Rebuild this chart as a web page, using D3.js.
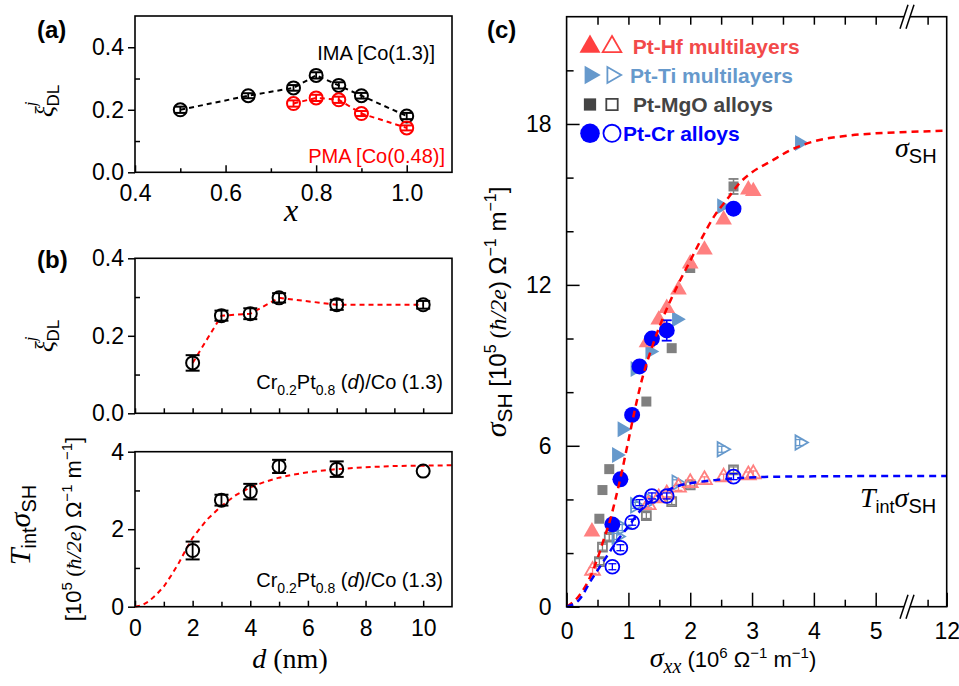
<!DOCTYPE html>
<html><head><meta charset="utf-8">
<script src="https://cdn.jsdelivr.net/npm/d3@7"></script>
<style>body{margin:0;background:#fff}svg{display:block}</style>
</head><body>
<script>
// ---------- DATA ----------
// panel (a)
const aX_ima = [0.5, 0.65, 0.75, 0.8, 0.85, 0.9, 1.0];
const aY_ima = [0.200, 0.245, 0.270, 0.310, 0.278, 0.245, 0.180];
const aE_ima = [0.010, 0.008, 0.009, 0.010, 0.010, 0.009, 0.010];
const aX_pma = [0.75, 0.8, 0.85, 0.9, 1.0];
const aY_pma = [0.220, 0.238, 0.232, 0.188, 0.142];
const aE_pma = [0.010, 0.010, 0.010, 0.008, 0.008];
const aXTicks = [0.4, 0.6, 0.8, 1.0];
const aXMinor = [0.5, 0.7, 0.9];
const aYTicks = [0.0, 0.2, 0.4];
const aYMinor = [0.1, 0.3];
// panel (b)
const bD = [2, 3, 4, 5, 7, 10];
const bXi = [0.130, 0.252, 0.257, 0.298, 0.280, 0.280];
const bXiErr = [0.020, 0.013, 0.014, 0.012, 0.013, 0.010];
const bTs = [1.45, 2.75, 2.97, 3.62, 3.55, 3.50];
const bTsErr = [0.23, 0.14, 0.20, 0.17, 0.20, 0.0];
const bFitD = [0, 0.25, 0.5, 0.75, 1, 1.25, 1.5, 1.75, 2, 2.5, 3, 3.5, 4, 4.5, 5, 5.5, 6, 7, 8, 9, 10, 11];
const bFitT = [0, 0.04, 0.15, 0.32, 0.52, 0.8, 1.1, 1.45, 1.78, 2.25, 2.6, 2.88, 3.08, 3.22, 3.33, 3.41, 3.47, 3.55, 3.6, 3.63, 3.64, 3.65];
const bXTicks = [0, 2, 4, 6, 8, 10];
const bXMinor = [1, 3, 5, 7, 9];
const bYTicksTop = [0.0, 0.2, 0.4];
const bYMinorTop = [0.1, 0.3];
const bYTicksBot = [0, 2, 4];
const bYMinorBot = [1, 3];
// panel (c)  sigma_xx (1e6), sigma_SH (1e5)
const hfX  = [0.41, 1.30, 1.49, 1.62, 1.81, 2.00, 2.23, 2.54, 2.94, 3.02];
const hfY  = [2.80, 9.85, 10.70, 11.13, 11.82, 12.79, 13.31, 14.43, 15.55, 15.49];
const hfoX = [0.42, 1.32, 1.49, 1.62, 1.81, 2.00, 2.23, 2.54, 2.94, 3.02];
const hfoY = [1.35, 3.80, 4.05, 4.20, 4.45, 4.62, 4.73, 4.83, 4.91, 4.95];
const tiX  = [0.81, 0.90, 1.11, 1.35, 1.78, 2.51, 3.77];
const tiY  = [5.66, 6.62, 8.86, 9.52, 10.72, 14.93, 17.29];
const tioY = [2.62, 2.95, 3.78, 3.95, 4.62, 5.87, 6.12];
const mgX  = [0.53, 0.58, 0.69, 1.29, 1.70, 2.00, 2.70];
const mgY  = [3.28, 4.35, 5.13, 7.65, 9.64, 12.63, 15.67];
const mgE  = [0, 0, 0, 0, 0, 0, 0.28];
const mgoY = [1.68, 2.22, 2.59, 3.40, 3.92, 4.54, 5.10];
const crX  = [0.74, 0.87, 1.06, 1.18, 1.38, 1.62, 2.70];
const crY  = [3.07, 4.75, 7.15, 8.96, 10.0, 10.3, 14.84];
const crE  = [0, 0, 0, 0, 0, 0.38, 0];
const croY = [1.49, 2.20, 3.15, 3.88, 4.13, 4.13, 4.85];
const fitSX = [0, 0.2, 0.4, 0.5, 0.6, 0.7, 0.8, 0.9, 1.0, 1.1, 1.2, 1.4, 1.6, 1.8, 2.0, 2.2, 2.4, 2.6, 2.8, 3.0, 3.3, 3.6, 4.0, 4.5, 5.0, 5.5, 12];
const fitSY = [0, 0.4, 1.2, 1.8, 2.5, 3.2, 4.1, 5.1, 6.2, 7.3, 8.3, 9.8, 11.0, 12.0, 12.9, 13.8, 14.6, 15.2, 15.8, 16.2, 16.6, 17.0, 17.35, 17.55, 17.65, 17.7, 17.75];
const fitTX = [0, 0.2, 0.4, 0.6, 0.8, 1.0, 1.2, 1.4, 1.6, 1.8, 2.0, 2.4, 2.8, 3.2, 4.0, 5.0, 5.5, 12];
const fitTY = [0, 0.25, 1.0, 1.7, 2.4, 3.0, 3.6, 4.0, 4.3, 4.5, 4.6, 4.72, 4.8, 4.84, 4.86, 4.87, 4.87, 4.87];
const cXTicks = [0, 1, 2, 3, 4, 5, 12];
const cXMinor = [0.5, 1.5, 2.5, 3.5, 4.5, 11.5];
const cXTop = [0.5, 1, 1.5, 2, 2.5, 3, 3.5, 4, 4.5, 5, 11.5];
const cYTicks = [0, 6, 12, 18];
const cYMinor = [2, 4, 8, 10, 14, 16, 20];

// ---------- SETUP ----------
const SANS = '"Liberation Sans", Arial, sans-serif';
const SERIF = '"Liberation Serif", "Times New Roman", serif';
const svg = d3.select('body').append('svg').attr('width', 959).attr('height', 686);

function axis(gen, transform, size) {
  const g = svg.append('g').attr('transform', transform).call(gen);
  g.select('.domain').remove();
  g.selectAll('text').attr('font-size', size || 23).attr('font-family', SANS).attr('fill', '#000');
  g.selectAll('line').attr('stroke', '#000').attr('stroke-width', 1.5);
  return g;
}
function frame(x0, x1, y0, y1) {
  svg.append('rect').attr('x', x0).attr('y', y0).attr('width', x1 - x0).attr('height', y1 - y0)
    .attr('fill', 'none').attr('stroke', '#000').attr('stroke-width', 1.6);
}
function rich(x, y, rot, anchor, parts, color) {
  const t = svg.append('text').attr('transform', `translate(${x},${y}) rotate(${rot})`)
    .attr('text-anchor', anchor).attr('fill', color || '#000');
  parts.forEach(p => {
    const s = t.append('tspan').text(p.t).attr('font-family', p.serif ? SERIF : SANS)
      .attr('font-size', p.s).attr('font-style', p.it ? 'italic' : 'normal')
      .attr('font-weight', p.b ? 'bold' : 'normal');
    if (p.dy) s.attr('dy', p.dy);
    if (p.dx) s.attr('dx', p.dx);
  });
  return t;
}
function errCircle(g, cx, cy, ytop, ybot, r, color, cap) {
  g.append('line').attr('x1', cx).attr('x2', cx).attr('y1', ytop).attr('y2', ybot).attr('stroke', color).attr('stroke-width', 1.8);
  [ytop, ybot].forEach(yy => g.append('line').attr('x1', cx - cap).attr('x2', cx + cap).attr('y1', yy).attr('y2', yy).attr('stroke', color).attr('stroke-width', 2));
  g.append('circle').attr('cx', cx).attr('cy', cy).attr('r', r).attr('fill', 'none').attr('stroke', color).attr('stroke-width', 2);
}
const xiLabel = [{t: 'ξ', s: 26, serif: 1, it: 1}, {t: 'j', s: 17, serif: 1, it: 1, dy: -17}, {t: 'DL', s: 17, dy: 23, dx: -5}];

// ---------- PANEL (a) ----------
const xa = d3.scaleLinear().domain([0.4, 1.1]).range([135, 452]);
const ya = d3.scaleLinear().domain([0, 0.5]).range([172.3, 16]);
axis(d3.axisBottom(xa).tickValues(aXTicks).tickSize(-7).tickPadding(12).tickFormat(d3.format('.1f')), 'translate(0,172.3)');
axis(d3.axisBottom(xa).tickValues(aXMinor).tickSize(-4).tickFormat(''), 'translate(0,172.3)');
axis(d3.axisLeft(ya).tickValues(aYTicks).tickSize(7).tickPadding(4).tickFormat(d3.format('.1f')), 'translate(135,0)');
axis(d3.axisLeft(ya).tickValues(aYMinor).tickSize(-5).tickFormat(''), 'translate(135,0)');
const lineA = d3.line().x(d => xa(d[0])).y(d => ya(d[1]));
const ga = svg.append('g');
ga.append('path').attr('d', lineA(d3.zip(aX_ima, aY_ima))).attr('fill', 'none').attr('stroke', '#000').attr('stroke-width', 2).attr('stroke-dasharray', '5,4');
ga.append('path').attr('d', lineA(d3.zip(aX_pma, aY_pma))).attr('fill', 'none').attr('stroke', '#ff0000').attr('stroke-width', 2).attr('stroke-dasharray', '5,4');
aX_ima.forEach((x, i) => errCircle(ga, xa(x), ya(aY_ima[i]), ya(aY_ima[i] + aE_ima[i]), ya(aY_ima[i] - aE_ima[i]), 6.5, '#000', 6));
aX_pma.forEach((x, i) => errCircle(ga, xa(x), ya(aY_pma[i]), ya(aY_pma[i] + aE_pma[i]), ya(aY_pma[i] - aE_pma[i]), 6.5, '#ff0000', 6));
frame(135, 452, 16, 172.3);
rich(435, 60, 0, 'end', [{t: 'IMA [Co(1.3)]', s: 20}]);
rich(445, 163, 0, 'end', [{t: 'PMA [Co(0.48)]', s: 20}], '#ff0000');
rich(291, 221, 0, 'middle', [{t: 'x', s: 32, serif: 1, it: 1}]);
rich(53, 101, -90, 'middle', xiLabel);
rich(37, 38, 0, 'start', [{t: '(a)', s: 24, b: 1}]);

// ---------- PANEL (b) ----------
const xb = d3.scaleLinear().domain([0, 11]).range([135, 452]);
const ybt = d3.scaleLinear().domain([0, 0.4]).range([413.3, 258.3]);
const ybb = d3.scaleLinear().domain([0, 4]).range([606.7, 451.7]);
// top
axis(d3.axisBottom(xb).tickValues(bXTicks.concat(bXMinor)).tickSize(-5).tickFormat(''), 'translate(0,413.3)');
axis(d3.axisLeft(ybt).tickValues(bYTicksTop).tickSize(7).tickPadding(4).tickFormat(d3.format('.1f')), 'translate(135,0)');
axis(d3.axisLeft(ybt).tickValues(bYMinorTop).tickSize(-5).tickFormat(''), 'translate(135,0)');
const gbt = svg.append('g');
gbt.append('path').attr('d', d3.line().x(d => xb(d[0])).y(d => ybt(d[1]))(d3.zip(bD, bXi)))
  .attr('fill', 'none').attr('stroke', '#ff0000').attr('stroke-width', 2).attr('stroke-dasharray', '5,4');
bD.forEach((d, i) => errCircle(gbt, xb(d), ybt(bXi[i]), ybt(bXi[i] + bXiErr[i]), ybt(bXi[i] - bXiErr[i]), 6.5, '#000', 7));
frame(135, 452, 258.3, 413.3);
rich(443, 389, 0, 'end', [{t: 'Cr', s: 20}, {t: '0.2', s: 14, dy: 6}, {t: 'Pt', s: 20, dy: -6}, {t: '0.8', s: 14, dy: 6}, {t: ' (', s: 20, dy: -6}, {t: 'd', s: 20, it: 1}, {t: ')/Co (1.3)', s: 20}]);
rich(53, 336, -90, 'middle', xiLabel);
rich(37, 268, 0, 'start', [{t: '(b)', s: 24, b: 1}]);
// bottom
axis(d3.axisBottom(xb).tickValues(bXTicks).tickSize(-6).tickPadding(13).tickFormat(d3.format('d')), 'translate(0,606.7)');
axis(d3.axisBottom(xb).tickValues(bXMinor).tickSize(-5).tickFormat(''), 'translate(0,606.7)');
axis(d3.axisLeft(ybb).tickValues(bYTicksBot).tickSize(7).tickPadding(4).tickFormat(d3.format('d')), 'translate(135,0)');
axis(d3.axisLeft(ybb).tickValues(bYMinorBot).tickSize(-5).tickFormat(''), 'translate(135,0)');
const gbb = svg.append('g');
gbb.append('path').attr('d', d3.line().x(d => xb(d[0])).y(d => ybb(d[1]))(d3.zip(bFitD, bFitT)))
  .attr('fill', 'none').attr('stroke', '#ff0000').attr('stroke-width', 2).attr('stroke-dasharray', '5,4');
bD.forEach((d, i) => errCircle(gbb, xb(d), ybb(bTs[i]), ybb(bTs[i] + bTsErr[i]), ybb(bTs[i] - bTsErr[i]), 6.5, '#000', bTsErr[i] > 0 ? 7 : 0));
frame(135, 452, 451.7, 606.7);
rich(443, 587, 0, 'end', [{t: 'Cr', s: 20}, {t: '0.2', s: 14, dy: 6}, {t: 'Pt', s: 20, dy: -6}, {t: '0.8', s: 14, dy: 6}, {t: ' (', s: 20, dy: -6}, {t: 'd', s: 20, it: 1}, {t: ')/Co (1.3)', s: 20}]);
rich(290, 668, 0, 'middle', [{t: 'd', s: 28, serif: 1, it: 1}, {t: ' (nm)', s: 28, serif: 1}]);
rich(30, 525, -90, 'middle', [{t: 'T', s: 30, serif: 1, it: 1}, {t: 'int', s: 20, dy: 6}, {t: 'σ', s: 30, serif: 1, it: 1, dy: -6}, {t: 'SH', s: 20, dy: 6}]);
rich(81, 529, -90, 'middle', [{t: '[10', s: 22}, {t: '5', s: 15, dy: -9}, {t: ' (', s: 22, serif: 1, dy: 9}, {t: 'ħ/2e', s: 22, serif: 1, it: 1}, {t: ') Ω', s: 22}, {t: '−1', s: 15, dy: -9}, {t: ' m', s: 22, dy: 9}, {t: '−1', s: 15, dy: -9}, {t: ']', s: 22, dy: 9}]);

// ---------- PANEL (c) ----------
const xc = d3.scaleLinear().domain([0, 5.5, 10.95, 12]).range([566.6, 906.6, 906.6, 946.7]);
const yc = d3.scaleLinear().domain([0, 22]).range([606.7, 16.7]);
axis(d3.axisBottom(xc).tickValues(cXTicks).tickSize(-14).tickPadding(16).tickFormat(d3.format('d')), 'translate(0,606.7)');
axis(d3.axisBottom(xc).tickValues(cXMinor).tickSize(-7).tickFormat(''), 'translate(0,606.7)');
axis(d3.axisTop(xc).tickValues(cXTop).tickSize(-8).tickFormat(''), 'translate(0,16.7)');
axis(d3.axisLeft(yc).tickValues(cYTicks).tickSize(-13).tickPadding(15).tickFormat(d3.format('d')), 'translate(566.6,0)');
axis(d3.axisLeft(yc).tickValues(cYMinor).tickSize(-7).tickFormat(''), 'translate(566.6,0)');

const gc = svg.append('g');
const sym = (type, size) => d3.symbol().type(type).size(size)();
function filled(xs, ys, type, size, color, rot) {
  xs.forEach((x, i) => gc.append('path').attr('d', sym(type, size))
    .attr('transform', `translate(${xc(x)},${yc(ys[i])}) rotate(${rot || 0})`).attr('fill', color));
}
function hollow(xs, ys, type, size, color, rot) {
  xs.forEach((x, i) => {
    const cx = xc(x), cy = yc(ys[i]);
    gc.append('line').attr('x1', cx).attr('x2', cx).attr('y1', cy - 3.5).attr('y2', cy + 3.5).attr('stroke', color).attr('stroke-width', 1.3);
    [cy - 3, cy + 3].forEach(yy => gc.append('line').attr('x1', cx - 4).attr('x2', cx + 4).attr('y1', yy).attr('y2', yy).attr('stroke', color).attr('stroke-width', 1.3));
    gc.append('path').attr('d', sym(type, size)).attr('transform', `translate(${cx},${cy}) rotate(${rot || 0})`)
      .attr('fill', 'none').attr('stroke', color).attr('stroke-width', 1.8);
  });
}
function errs(xs, ys, es, color) {
  xs.forEach((x, i) => {
    if (!es[i]) return;
    const cx = xc(x), t = yc(ys[i] + es[i]), b = yc(ys[i] - es[i]);
    gc.append('line').attr('x1', cx).attr('x2', cx).attr('y1', t).attr('y2', b).attr('stroke', color).attr('stroke-width', 1.5);
    [t, b].forEach(yy => gc.append('line').attr('x1', cx - 5).attr('x2', cx + 5).attr('y1', yy).attr('y2', yy).attr('stroke', color).attr('stroke-width', 1.8));
  });
}
const C_HF = '#ff8080', C_TI = '#6699cc', C_MG = '#808080', C_CR = '#0000ff';
// open (Tint sigma)
hollow(mgX, mgoY, d3.symbolSquare, 80, C_MG);
hollow(tiX, tioY, d3.symbolTriangle, 90, C_TI, 90);
hollow(hfoX, hfoY, d3.symbolTriangle, 95, C_HF);
hollow(crX, croY, d3.symbolCircle, 150, C_CR);
// filled (sigma SH)
errs(mgX, mgY, mgE, C_MG);
filled(mgX, mgY, d3.symbolSquare, 100, C_MG);
filled(tiX, tiY, d3.symbolTriangle, 110, C_TI, 90);
filled(hfX, hfY, d3.symbolTriangle, 120, C_HF);
errs(crX, crY, crE, C_CR);
filled(crX, crY, d3.symbolCircle, 200, C_CR);
// fits
const lineC = d3.line().x(d => xc(d[0])).y(d => yc(d[1])).curve(d3.curveMonotoneX);
gc.append('path').attr('d', lineC(d3.zip(fitSX, fitSY))).attr('fill', 'none').attr('stroke', '#ff0000').attr('stroke-width', 2.5).attr('stroke-dasharray', '7,5');
gc.append('path').attr('d', lineC(d3.zip(fitTX, fitTY))).attr('fill', 'none').attr('stroke', '#0000ff').attr('stroke-width', 2.5).attr('stroke-dasharray', '7,5');
frame(566.6, 946.7, 16.7, 606.7);
// axis breaks
[[16.7], [606.7]].forEach(([yy]) => {
  svg.append('rect').attr('x', 904).attr('y', yy - 2).attr('width', 6).attr('height', 4).attr('fill', '#fff');
  [-3, 3].forEach(o => svg.append('line').attr('x1', 907 + o - 4).attr('y1', yy + 12).attr('x2', 907 + o + 4).attr('y2', yy - 12)
    .attr('stroke', '#000').attr('stroke-width', 1.5));
});
// legend
const legRows = [
  {y: 46.7, fill: '#ff4040', open: '#ff4040', text: 'Pt-Hf multilayers', tc: '#f24a4a', type: d3.symbolTriangle, rot: 0, s1: 190, s2: 150, tx: 632.7},
  {y: 75, fill: C_TI, open: C_TI, text: 'Pt-Ti multilayers', tc: C_TI, type: d3.symbolTriangle, rot: 90, s1: 150, s2: 110, tx: 630},
  {y: 104.5, fill: '#444444', open: '#444444', text: 'Pt-MgO alloys', tc: '#444444', type: d3.symbolSquare, rot: 0, s1: 150, s2: 130, tx: 633},
  {y: 133.3, fill: C_CR, open: C_CR, text: 'Pt-Cr alloys', tc: C_CR, type: d3.symbolCircle, rot: 0, s1: 300, s2: 230, tx: 623}
];
legRows.forEach(r => {
  svg.append('path').attr('d', sym(r.type, r.s1)).attr('transform', `translate(590,${r.y}) rotate(${r.rot})`).attr('fill', r.fill);
  svg.append('path').attr('d', sym(r.type, r.s2)).attr('transform', `translate(612,${r.y}) rotate(${r.rot})`)
    .attr('fill', 'none').attr('stroke', r.open).attr('stroke-width', 1.8);
  svg.append('text').attr('x', r.tx).attr('y', r.y + 7.5).attr('font-family', SANS).attr('font-weight', 'bold')
    .attr('font-size', 21).attr('fill', r.tc).text(r.text);
});
rich(895, 157, 0, 'start', [{t: 'σ', s: 28, serif: 1, it: 1}, {t: 'SH', s: 20, dy: 6}]);
rich(860, 507, 0, 'start', [{t: 'T', s: 28, serif: 1, it: 1}, {t: 'int', s: 18, dy: 6}, {t: 'σ', s: 28, serif: 1, it: 1, dy: -6}, {t: 'SH', s: 20, dy: 6}]);
rich(733, 667, 0, 'middle', [{t: 'σ', s: 28, serif: 1, it: 1}, {t: 'xx', s: 20, serif: 1, it: 1, dy: 6}, {t: ' (10', s: 22, dy: -6}, {t: '6', s: 15, dy: -9}, {t: ' Ω', s: 22, dy: 9}, {t: '−1', s: 15, dy: -9}, {t: ' m', s: 22, dy: 9}, {t: '−1', s: 15, dy: -9}, {t: ')', s: 22, dy: 9}]);
rich(506, 312, -90, 'middle', [{t: 'σ', s: 30, serif: 1, it: 1}, {t: 'SH', s: 21, dy: 6}, {t: ' [10', s: 24, dy: -6}, {t: '5', s: 16, dy: -10}, {t: ' (', s: 24, serif: 1, dy: 10}, {t: 'ħ/2e', s: 24, serif: 1, it: 1}, {t: ') Ω', s: 24}, {t: '−1', s: 16, dy: -10}, {t: ' m', s: 24, dy: 10}, {t: '−1', s: 16, dy: -10}, {t: ']', s: 24, dy: 10}]);
rich(487, 38, 0, 'start', [{t: '(c)', s: 24, b: 1}]);
</script>
</body></html>
